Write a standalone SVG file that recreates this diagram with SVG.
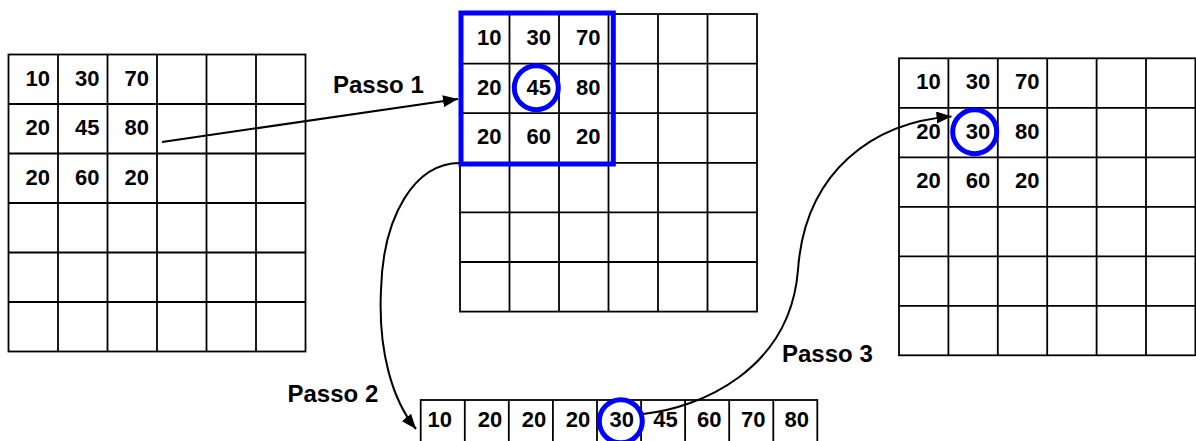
<svg xmlns="http://www.w3.org/2000/svg" width="1196" height="441" viewBox="0 0 1196 441">
  <style>
    .grid { fill: none; stroke: #000; stroke-width: 1.8; }
    .num { font-family: "Liberation Sans", Arial, sans-serif; font-weight: bold; font-size: 22px; fill: #000; }
    .num-r { text-anchor: end; }
    .num-c { text-anchor: middle; }
    .label { font-family: "Liberation Sans", Arial, sans-serif; font-weight: bold; font-size: 24px; fill: #000; }
    .blue { fill: none; stroke: #0000ff; stroke-width: 5; }
    .conn { fill: none; stroke: #000; stroke-width: 2; }
  </style>
  <defs>
    <marker id="arrow" markerUnits="userSpaceOnUse" markerWidth="15" markerHeight="12" viewBox="0 0 15 12" refX="15" refY="6" orient="auto">
      <path d="M0,0 L15,6 L0,12 z" fill="#000"/>
    </marker>
  </defs>
  <rect width="1196" height="441" fill="#fff"/>

  <g id="grid-left">
    <rect class="grid" x="8.5" y="54.5" width="297" height="297"/>
    <path class="grid" d="M58,54.5V351.5 M107.5,54.5V351.5 M157,54.5V351.5 M206.5,54.5V351.5 M256,54.5V351.5 M8.5,104H305.5 M8.5,153.5H305.5 M8.5,203H305.5 M8.5,252.5H305.5 M8.5,302H305.5"/>
    <text class="num num-r" x="50" y="85.5">10</text>
    <text class="num num-r" x="99.5" y="85.5">30</text>
    <text class="num num-r" x="149" y="85.5">70</text>
    <text class="num num-r" x="50" y="135">20</text>
    <text class="num num-r" x="99.5" y="135">45</text>
    <text class="num num-r" x="149" y="135">80</text>
    <text class="num num-r" x="50" y="184.5">20</text>
    <text class="num num-r" x="99.5" y="184.5">60</text>
    <text class="num num-r" x="149" y="184.5">20</text>
  </g>

  <g id="grid-middle">
    <rect class="grid" x="460" y="14" width="297" height="297.6"/>
    <path class="grid" d="M509.5,14V311.6 M559,14V311.6 M608.5,14V311.6 M658,14V311.6 M707.5,14V311.6 M460,63.6H757 M460,113.2H757 M460,162.8H757 M460,212.4H757 M460,262H757"/>
    <text class="num num-r" x="501.5" y="45">10</text>
    <text class="num num-r" x="551" y="45">30</text>
    <text class="num num-r" x="600.5" y="45">70</text>
    <text class="num num-r" x="501.5" y="94.6">20</text>
    <text class="num num-r" x="551" y="94.6">45</text>
    <text class="num num-r" x="600.5" y="94.6">80</text>
    <text class="num num-r" x="501.5" y="144.2">20</text>
    <text class="num num-r" x="551" y="144.2">60</text>
    <text class="num num-r" x="600.5" y="144.2">20</text>
    <rect class="blue" x="461" y="13" width="152.3" height="151"/>
    <circle class="blue" cx="536.3" cy="87.8" r="22" stroke-width="4.7"/>
  </g>

  <g id="grid-right">
    <rect class="grid" x="899" y="58.3" width="296.4" height="297"/>
    <path class="grid" d="M948.4,58.3V355.3 M997.8,58.3V355.3 M1047.2,58.3V355.3 M1096.6,58.3V355.3 M1146,58.3V355.3 M899,107.8H1195.4 M899,157.3H1195.4 M899,206.8H1195.4 M899,256.3H1195.4 M899,305.8H1195.4"/>
    <text class="num num-r" x="940.8" y="89.3">10</text>
    <text class="num num-r" x="990.2" y="89.3">30</text>
    <text class="num num-r" x="1039.6" y="89.3">70</text>
    <text class="num num-r" x="940.8" y="138.8">20</text>
    <text class="num num-r" x="990.2" y="138.8">30</text>
    <text class="num num-r" x="1039.6" y="138.8">80</text>
    <text class="num num-r" x="940.8" y="188.3">20</text>
    <text class="num num-r" x="990.2" y="188.3">60</text>
    <text class="num num-r" x="1039.6" y="188.3">20</text>
    <circle class="blue" cx="974.7" cy="131.7" r="22" stroke-width="4.7"/>
  </g>

  <g id="array-bottom">
    <rect class="grid" x="420.7" y="400" width="396.6" height="46"/>
    <path class="grid" d="M464.8,400V446 M508.8,400V446 M552.9,400V446 M597,400V446 M641.1,400V446 M685.1,400V446 M729.2,400V446 M773.3,400V446"/>
    <text class="num num-c" x="439.7" y="427">10</text>
    <text class="num num-c" x="490" y="427">20</text>
    <text class="num num-c" x="534" y="427">20</text>
    <text class="num num-c" x="578" y="427">20</text>
    <text class="num num-c" x="621.7" y="427">30</text>
    <text class="num num-c" x="665.5" y="427">45</text>
    <text class="num num-c" x="709.2" y="427">60</text>
    <text class="num num-c" x="753.3" y="427">70</text>
    <text class="num num-c" x="796.7" y="427">80</text>
    <circle class="blue" cx="620.8" cy="421.3" r="21.5"/>
  </g>

  <g id="connectors">
    <path class="conn" d="M162,142 L458,99" marker-end="url(#arrow)"/>
    <path class="conn" d="M460,163 C415,163 383,215 381,290 C378,350 392,400 416,429" marker-end="url(#arrow)"/>
    <path class="conn" d="M643,414 C700,408 790,370 798,270 C805,170 875,122 951.5,116.5" marker-end="url(#arrow)"/>
  </g>

  <g id="labels">
    <text class="label" x="333" y="93">Passo 1</text>
    <text class="label" x="287.5" y="402">Passo 2</text>
    <text class="label" x="782" y="362">Passo 3</text>
  </g>
</svg>
